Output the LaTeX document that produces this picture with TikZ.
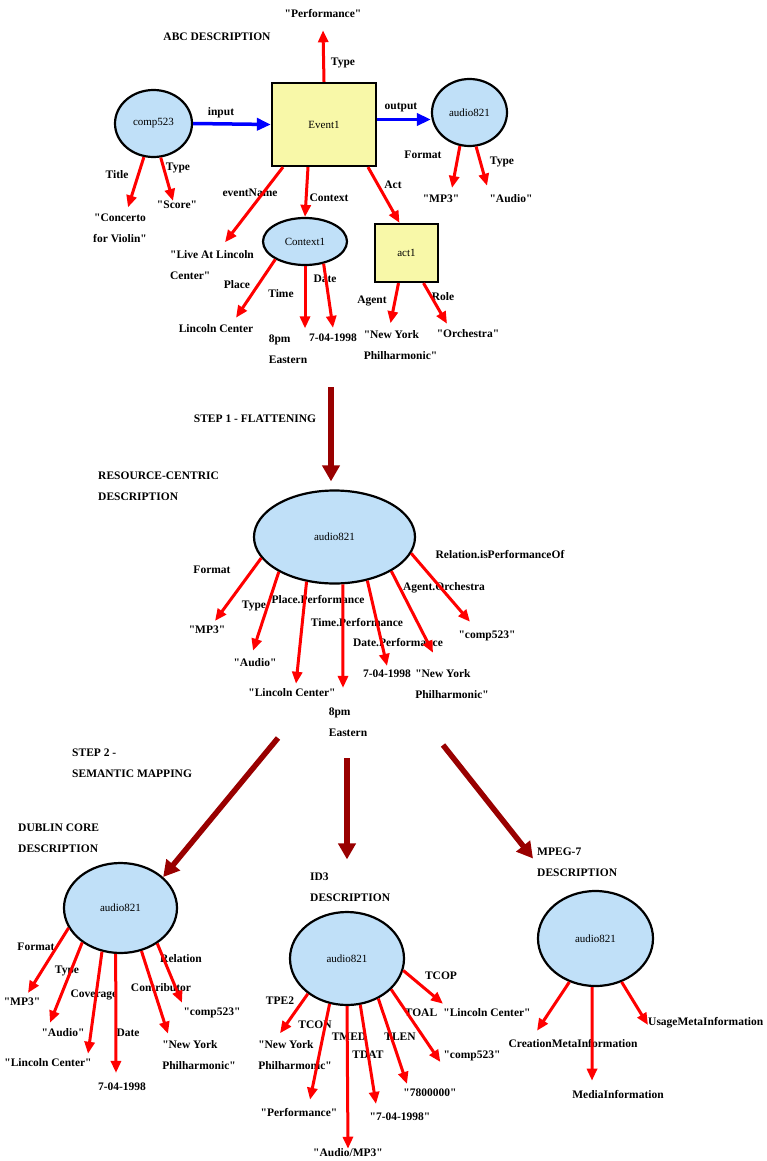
\documentclass[tikz,border=0pt]{standalone}
\usepackage{fontspec}
\setmainfont{Liberation Serif}[Ligatures=TeXOff]
\usetikzlibrary{shapes.geometric,arrows.meta}
\definecolor{resblue}{RGB}{192,224,248}
\definecolor{evtyellow}{RGB}{248,248,168}
\definecolor{stepred}{RGB}{153,0,0}
\def\lbl{\fontsize{11.5}{21}\selectfont\bfseries}

\begin{document}
\begin{tikzpicture}[x=1pt,y=-1pt,
  res/.style={ellipse,draw,line width=2.2pt,fill=resblue,inner sep=0pt,font=\fontsize{11}{13}\selectfont},
  evt/.style={rectangle,draw,line width=2.2pt,fill=evtyellow,inner sep=0pt,font=\fontsize{11}{13}\selectfont},
  txt/.style={inner sep=0pt,align=left,font=\lbl},
  prop/.style={draw=red,line width=3pt,-{Triangle[length=12pt,width=10pt]}},
  flow/.style={draw=blue,line width=3.5pt,-{Triangle[length=14pt,width=12pt]}},
  stepline/.style={draw=stepred,line width=5.5pt,-{Triangle[length=16pt,width=17pt]}}]

\useasboundingbox (0,0) rectangle (767,1161);

%ABC description
\node[txt] (perf) at (323,14) {"Performance"};
\node[txt] (abc) at (217,37) {ABC DESCRIPTION};
\node[res,minimum width=77pt,minimum height=67pt] (comp) at (153.5,123.5) {comp523};
\node[evt,minimum width=104pt,minimum height=83pt] (evt) at (324,124.5) {Event1};
\node[res,minimum width=75pt,minimum height=67pt] (aud) at (469.5,112.5) {audio821};
\node[txt] (tType) at (343,63) {Type};
\node[txt] (tInput) at (221,113) {input};
\node[txt] (tOutput) at (401,107) {output};
\draw[prop] (evt.north) -- ([yshift=-12pt]perf.south);
\draw[flow] (comp.east) -- (evt.west);
\draw[flow] ([yshift=5pt]evt.east) -- ([yshift=-7pt]aud.west);

%comp523
\node[txt] (tTitle) at (117,175) {Title};
\node[txt] (tType2) at (178,168) {Type};
\node[txt,align=center] (conc) at (120,228) {"Concerto\\for Violin"};
\node[txt] (score) at (177,205) {"Score"};
\draw[prop] (comp.254) -- ([xshift=8pt,yshift=6pt]conc.north);
\draw[prop] (comp.282) -- ([xshift=-4pt]score.north);

%audio821
\node[txt] (tFormat) at (423,155) {Format};
\node[txt] (tType3) at (502,162) {Type};
\node[txt] (mp3a) at (441,199) {"MP3"};
\node[txt] (audA) at (511,199) {"Audio"};
\draw[prop] (aud.254) -- ([xshift=11pt,yshift=7pt]mp3a.north);
\draw[prop] (aud.281) -- ([xshift=-24pt,yshift=9pt]audA.north);

%Event1
\node[txt] (tEvName) at (250,193) {eventName};
\node[txt] (tContext) at (329,198) {Context};
\node[txt] (tAct) at (393,185) {Act};
\node[txt] (live) at (212,265) {"Live At Lincoln\\Center"};
\node[res,minimum width=84pt,minimum height=47pt] (ctx) at (305,241.5) {Context1};
\node[evt,minimum width=63pt,minimum height=58pt] (act) at (406.5,253) {act1};
\draw[prop] ([xshift=-41pt]evt.south) -- ([xshift=13pt,yshift=8pt]live.north);
\draw[prop] ([xshift=-16pt]evt.south) -- (ctx.north);
\draw[prop] ([xshift=44pt]evt.south) -- ([xshift=-7pt]act.north);

%Context1
\node[txt] (tPlace) at (237,285) {Place};
\node[txt] (tTime) at (281,294) {Time};
\node[txt] (tDate) at (325,279) {Date};
\node[txt] (lc1) at (216,329) {Lincoln Center};
\node[txt] (pm1) at (288,349) {8pm\\Eastern};
\node[txt] (dt1) at (333,338) {7-04-1998};
\draw[prop] (ctx.211) -- ([xshift=20pt,yshift=7pt]lc1.north);
\draw[prop] (ctx.south) -- ([xshift=17pt,yshift=6pt]pm1.north);
\draw[prop] (ctx.310) -- ([yshift=6pt]dt1.north);

%act1
\node[txt] (tAgent) at (372,301) {Agent};
\node[txt] (tRole) at (443,297) {Role};
\node[txt] (ny1) at (400.5,345) {"New York\\Philharmonic"};
\node[txt] (orch) at (468,334) {"Orchestra"};
\draw[prop] ([xshift=-8pt]act.south) -- ([xshift=-10pt,yshift=7pt]ny1.north);
\draw[prop] ([xshift=17pt]act.south) -- ([xshift=-21pt,yshift=6pt]orch.north);

%step 1
\node[res,minimum width=161pt,minimum height=93pt] (mid) at (334.5,537) {audio821};
\coordinate (s1) at (331,387);
\draw[stepline] (s1) -- ([xshift=-3.5pt,yshift=8pt]mid.north);
\node[txt] (tStep1) at (255,419) {STEP 1 - FLATTENING};
\node[txt,anchor=west] (rc) at (98,486.5) {RESOURCE-CENTRIC\\DESCRIPTION};

%resource-centric
\node[txt] (mFormat) at (212,570) {Format};
\node[txt] (mType) at (254,606) {Type};
\node[txt] (mPlace) at (318,600) {Place.Performance};
\node[txt] (mTime) at (357,623) {Time.Performance};
\node[txt] (mDate) at (398,643) {Date.Performance};
\node[txt] (mAgent) at (444,588) {Agent.Orchestra};
\node[txt] (mRel) at (500,555) {Relation.isPerformanceOf};
\node[txt] (mp3m) at (207,630) {"MP3"};
\node[txt] (audm) at (255,663) {"Audio"};
\node[txt] (lcm) at (292,693) {"Lincoln Center"};
\node[txt] (pmm) at (348,722.5) {8pm\\Eastern};
\node[txt] (dtm) at (387,674) {7-04-1998};
\node[txt] (nym) at (452,684.5) {"New York\\Philharmonic"};
\node[txt] (cm) at (487,636) {"comp523"};
\draw[prop] (mid.196) -- ([xshift=8pt,yshift=5pt]mp3m.north);
\draw[prop] (mid.212) -- ([xshift=-2pt,yshift=8pt]audm.north);
\draw[prop] (mid.238) -- ([xshift=4pt,yshift=5pt]lcm.north);
\draw[prop] (mid.280) -- ([xshift=-5pt,yshift=20pt]pmm.north);
\draw[prop] (mid.307) -- ([yshift=4pt]dtm.north);
\draw[prop] (mid.329) -- ([xshift=-19pt,yshift=17pt]nym.north);
\draw[prop] (mid.348) -- ([xshift=-17pt,yshift=9pt]cm.north);

%step 2
\node[txt,anchor=west] (tStep2) at (72,763) {STEP 2 -\\SEMANTIC MAPPING};
\node[txt,anchor=west] (hddc) at (18,838) {DUBLIN CORE\\DESCRIPTION};
\node[txt,anchor=west] (hdid) at (310,887) {ID3\\DESCRIPTION};
\node[txt,anchor=west] (hdmp) at (537,862.5) {MPEG-7\\DESCRIPTION};
\node[res,minimum width=113pt,minimum height=90pt] (dc) at (120.5,908) {audio821};
\node[res,minimum width=114pt,minimum height=93pt] (id3) at (347,958.5) {audio821};
\node[res,minimum width=115pt,minimum height=95pt] (mp7) at (595.5,938.5) {audio821};
\coordinate (s2a) at (278,738);
\coordinate (s2b) at (347,758);
\coordinate (s2c) at (443,745);
\draw[stepline] (s2a) -- (dc.36);
\draw[stepline,shorten >=13pt] (s2b) -- (s2b |- hdid.north);
\draw[stepline] (s2c) -- ([xshift=-4pt,yshift=4pt]hdmp.west);

%Dublin Core
\node[txt] (dFormat) at (36,947) {Format};
\node[txt] (dType) at (67,971) {Type};
\node[txt] (dCov) at (94,995) {Coverage};
\node[txt] (dDate) at (128,1033) {Date};
\node[txt] (dContr) at (161,988) {Contributor};
\node[txt] (dRel) at (181,959) {Relation};
\node[txt] (mp3d) at (22,1002) {"MP3"};
\node[txt] (audd) at (63,1033) {"Audio"};
\node[txt] (lcd) at (48,1063) {"Lincoln Center"};
\node[txt] (dtd) at (122,1087) {7-04-1998};
\node[txt] (nyd) at (199,1055.5) {"New York\\Philharmonic"};
\node[txt] (cd) at (212,1013) {"comp523"};
\draw[prop] (dc.201) -- ([xshift=6pt,yshift=5pt]mp3d.north);
\draw[prop] (dc.222) -- ([xshift=-13pt,yshift=6pt]audd.north);
\draw[prop] (dc.247) -- ([xshift=40pt,yshift=5pt]lcd.north);
\draw[prop] (dc.264) -- ([xshift=-6pt,yshift=10pt]dtd.north);
\draw[prop] (dc.296) -- ([xshift=-31pt,yshift=7pt]nyd.north);
\draw[prop] (dc.316) -- ([xshift=-30pt,yshift=5pt]cd.north);

%ID3
\node[txt] (iTPE) at (280,1001) {TPE2};
\node[txt] (iTCON) at (315,1025) {TCON};
\node[txt] (iTMED) at (349,1037) {TMED};
\node[txt] (iTDAT) at (368,1055) {TDAT};
\node[txt] (iTLEN) at (400,1037) {TLEN};
\node[txt] (iTOAL) at (421,1013) {TOAL};
\node[txt] (iTCOP) at (441,976) {TCOP};
\node[txt] (nyi) at (295,1055) {"New York\\Philharmonic"};
\node[txt] (perfi) at (299,1112) {"Performance"};
\node[txt] (ami) at (348,1153) {"Audio/MP3"};
\node[txt] (dti) at (400,1117) {"7-04-1998"};
\node[txt] (leni) at (430,1093) {"7800000"};
\node[txt] (ci) at (472,1056) {"comp523"};
\node[txt] (lci) at (487,1013) {"Lincoln Center"};
\draw[prop] (id3.222) -- ([xshift=-15pt,yshift=7pt]nyi.north);
\draw[prop] (id3.249) -- ([xshift=11pt,yshift=8pt]perfi.north);
\draw[prop] (id3.south) -- (ami.north);
\draw[prop] (id3.286) -- ([xshift=-24pt,yshift=9pt]dti.north);
\draw[prop] (id3.308) -- ([xshift=-23pt,yshift=5pt]leni.north);
\draw[prop] (id3.325) -- ([xshift=-3pt,yshift=-6pt]ci.west);
\draw[prop] (id3.348) -- ([xshift=-44pt,yshift=5pt]lci.north);

%MPEG-7
\node[txt] (cmi) at (573,1043) {CreationMetaInformation};
\node[txt] (mi) at (618,1094) {MediaInformation};
\node[txt,anchor=west] (umi) at (648,1023) {UsageMetaInformation};
\draw[prop] (mp7.239) -- ([xshift=-36pt,yshift=8pt]cmi.north);
\draw[prop] (mp7.266) -- ([xshift=-26pt,yshift=9pt]mi.north);
\draw[prop] (mp7.301) -- ([yshift=-2pt]umi.west);

\end{tikzpicture}
\end{document}
